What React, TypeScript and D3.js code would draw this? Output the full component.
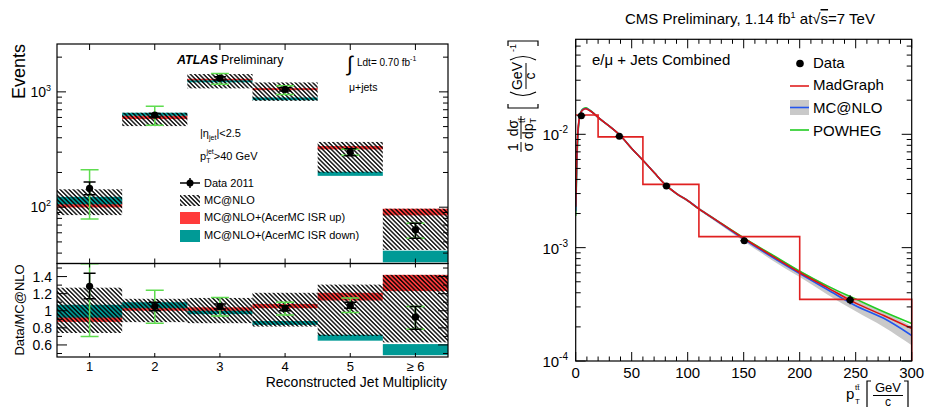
import React from 'react';
import * as d3 from 'd3';

// ---------- Left panel (ATLAS) ----------
const categories = ['1', '2', '3', '4', '5', '≥ 6'];
const dataEvents = [146, 628, 1310, 1049, 301, 63.6];
const dataStatLo = [128, 605, 1265, 1015, 280, 53.7];
const dataStatHi = [165, 650, 1355, 1085, 322, 72.6];
const dataTotLo = [79, 513, 1167, 949, 282, 53.7];
const dataTotHi = [211, 751, 1445, 1128, 318, 72.6];
const mcLo = [85.4, 505, 1072, 835, 199, 42.6];
const mcHi = [143, 659, 1427, 1207, 368, 97];
const upLo = [99.6, 581, 1248, 1035, 317, 85];
const upHi = [115, 621, 1299, 1077, 339, 97];
const downLo = [106, 621, 1209, 847, 187, 33.3];
const downHi = [123, 659, 1258, 894, 203, 42];

const ratioData = [1.286, 1.05, 1.05, 1.03, 1.06, 0.925];
const ratioStatLo = [1.14, 1.0, 1.02, 1.0, 1.03, 0.785];
const ratioStatHi = [1.44, 1.1, 1.08, 1.06, 1.1, 1.05];
const ratioTotLo = [0.7, 0.855, 0.94, 0.95, 0.98, 0.785];
const ratioTotHi = [1.55, 1.24, 1.156, 1.1, 1.15, 1.05];
const ratioMcLo = [0.74, 0.867, 0.855, 0.815, 0.705, 0.63];
const ratioMcHi = [1.27, 1.14, 1.15, 1.21, 1.306, 1.42];
const ratioUpLo = [0.87, 1.0, 0.99, 1.03, 1.12, 1.23];
const ratioUpHi = [0.97, 1.05, 1.04, 1.08, 1.21, 1.42];
const ratioDownLo = [0.92, 1.03, 0.96, 0.835, 0.65, 0.48];
const ratioDownHi = [1.07, 1.1, 1.0, 0.88, 0.72, 0.61];
const ratioTicks = [0.6, 0.8, 1, 1.2, 1.4];
const ratioMinorTicks = [0.5, 0.7, 0.9, 1.1, 1.3, 1.5];

// ---------- Right panel (CMS) ----------
const ptData = [5, 39, 81, 150.5, 245];
const ptDataVal = [0.0146, 0.0096, 0.0035, 0.00115, 0.000346];
const ptDataErrLo = [0.0142, 0.0094, 0.00342, 0.0011, 0.000317];
const ptDataErrHi = [0.015, 0.0098, 0.00358, 0.0012, 0.00038];
const binEdges = [0, 20, 60, 110, 200, 300];
const madgraphHist = [0.0148, 0.0095, 0.00362, 0.00125, 0.00035];
const curveX = [0, 1, 2, 3, 4, 6, 9, 12, 16, 20, 30, 40, 50, 60, 70, 80, 90, 100, 110, 125, 150, 175, 200, 225, 250, 275, 300];
const madgraphCurve = [0.0023, 0.0063, 0.0108, 0.0134, 0.015, 0.0163, 0.0168, 0.0163, 0.0153, 0.0141, 0.0118, 0.0097, 0.0075, 0.0059, 0.0046, 0.0036, 0.003, 0.0026, 0.0022, 0.00176, 0.00121, 0.00085, 0.000603, 0.000442, 0.000324, 0.000252, 0.000194];
const powhegCurve = [0.0019, 0.0052, 0.0098, 0.013, 0.015, 0.0166, 0.0171, 0.0165, 0.0154, 0.0141, 0.0118, 0.0097, 0.0075, 0.0059, 0.0046, 0.0036, 0.003, 0.0026, 0.0022, 0.00176, 0.00122, 0.00087, 0.00062, 0.000458, 0.000352, 0.000272, 0.000214];
const mcnloCurve = [0.0021, 0.0058, 0.0104, 0.0132, 0.0149, 0.0164, 0.0169, 0.0164, 0.0153, 0.0141, 0.0118, 0.0097, 0.0075, 0.0059, 0.0046, 0.0036, 0.003, 0.0026, 0.0022, 0.00175, 0.00119, 0.00083, 0.00059, 0.000425, 0.000307, 0.000238, 0.000168];
const mcnloBandLo = [0.002, 0.0055, 0.01, 0.0128, 0.0145, 0.016, 0.0165, 0.016, 0.015, 0.0138, 0.0116, 0.0095, 0.0073, 0.0058, 0.0045, 0.00352, 0.00293, 0.00253, 0.00214, 0.00169, 0.00114, 0.00078, 0.00055, 0.000385, 0.000275, 0.0002, 0.000138];
const mcnloBandHi = [0.0022, 0.0061, 0.0108, 0.0136, 0.0153, 0.0168, 0.0173, 0.0168, 0.0156, 0.0144, 0.012, 0.0099, 0.0077, 0.006, 0.0047, 0.00368, 0.00307, 0.00267, 0.00226, 0.00181, 0.00124, 0.00088, 0.00063, 0.000465, 0.000345, 0.000272, 0.000203];
const ptTicks = [0, 50, 100, 150, 200, 250, 300];
const ptMinor = d3.range(0, 301, 10);
const yRTicks = [1e-4, 1e-3, 1e-2];
const yRTickSup = ['-4', '-3', '-2'];

const RED = '#ff3b3b';
const TEAL = '#009a96';
const GREEN = '#5fdc4f';
const FONT = "'Liberation Sans', Arial, Helvetica, sans-serif";

function logMinors(lo: number, hi: number): number[] {
  const out: number[] = [];
  for (let e = Math.floor(Math.log10(lo)); e <= Math.ceil(Math.log10(hi)); e++) {
    for (let m = 1; m <= 9; m++) {
      const v = m * Math.pow(10, e);
      if (v >= lo && v <= hi) out.push(v);
    }
  }
  return out;
}

export default function App() {
  // left scales
  const L = { x0: 57, x1: 448, yTop: 44, yMid: 263.5, yBot: 357 };
  const xL = d3.scaleLinear().domain([0.5, 6.5]).range([L.x0, L.x1]);
  const yTop = d3.scaleLog().domain([32.5, 2600]).range([L.yMid, L.yTop]);
  const yRat = d3.scaleLinear().domain([0.459, 1.553]).range([L.yBot, L.yMid]);
  const bw = xL(1.5) - xL(0.5);

  // right scales
  const R = { x0: 575.7, x1: 911.7, y0: 39.3, y1: 361 };
  const xR = d3.scaleLinear().domain([0, 300]).range([R.x0, R.x1]);
  const yR = d3.scaleLog().domain([1e-4, 0.0689]).range([R.y1, R.y0]);

  const idx = categories.map((_, i) => i);

  const band = (lo: number[], hi: number[], y: any, fill: string, key: string) =>
    idx.map((i) => (
      <rect key={key + i} x={xL(i + 0.5)} width={bw} y={y(hi[i])} height={Math.max(0, y(lo[i]) - y(hi[i]))} fill={fill} />
    ));

  const errBars = (val: number[], lo: number[], hi: number[], y: any, color: string, cap: number, key: string) =>
    idx.map((i) => {
      const cx = xL(i + 1);
      return (
        <g key={key + i} stroke={color} strokeWidth={1.5}>
          <line x1={cx} x2={cx} y1={y(lo[i])} y2={y(hi[i])} />
          <line x1={cx - cap} x2={cx + cap} y1={y(lo[i])} y2={y(lo[i])} />
          <line x1={cx - cap} x2={cx + cap} y1={y(hi[i])} y2={y(hi[i])} />
        </g>
      );
    });

  const topMinors = logMinors(32.5, 2600);
  const rMinors = logMinors(1e-4, 0.0689);

  const curveLine = (ys: number[]) =>
    d3.line<number>().x((_, i) => xR(curveX[i])).y((v) => yR(v)).curve(d3.curveMonotoneX)(ys) || '';
  const bandArea =
    d3
      .area<number>()
      .x((_, i) => xR(curveX[i]))
      .y0((_, i) => yR(mcnloBandLo[i]))
      .y1((_, i) => yR(mcnloBandHi[i]))
      .curve(d3.curveMonotoneX)(curveX) || '';

  let histPath = `M${xR(binEdges[0])},${yR(madgraphHist[0])}`;
  madgraphHist.forEach((v, i) => {
    histPath += `L${xR(binEdges[i + 1])},${yR(v)}`;
    if (i < madgraphHist.length - 1) histPath += `L${xR(binEdges[i + 1])},${yR(madgraphHist[i + 1])}`;
  });
  histPath += `L${xR(300)},${R.y1}`;

  return (
    <svg width={925} height={407} style={{ position: 'absolute', left: 0, top: 0, background: '#fff' }} fontFamily={FONT}>
      <defs>
        <pattern id="hatch" patternUnits="userSpaceOnUse" width={3.1} height={3.1} patternTransform="rotate(-45)">
          <line x1={1.55} y1={0} x2={1.55} y2={3.1} stroke="#000" strokeWidth={1.35} />
        </pattern>
        <clipPath id="clipTop">
          <rect x={L.x0} y={L.yTop} width={L.x1 - L.x0} height={L.yMid - L.yTop} />
        </clipPath>
        <clipPath id="clipRat">
          <rect x={L.x0} y={L.yMid} width={L.x1 - L.x0} height={L.yBot - L.yMid} />
        </clipPath>
        <clipPath id="clipR">
          <rect x={R.x0} y={R.y0} width={R.x1 - R.x0} height={R.y1 - R.y0} />
        </clipPath>
      </defs>

      {/* ================= LEFT: top panel ================= */}
      <g clipPath="url(#clipTop)">
        {band(upLo, upHi, yTop, RED, 'up')}
        {band(downLo, downHi, yTop, TEAL, 'dn')}
        {band(mcLo, mcHi, yTop, 'url(#hatch)', 'mc')}
        {errBars(dataEvents, dataTotLo, dataTotHi, yTop, GREEN, 9, 'gt')}
        {errBars(dataEvents, dataStatLo, dataStatHi, yTop, '#000', 6, 'bt')}
        {idx.map((i) => (
          <circle key={'dt' + i} cx={xL(i + 1)} cy={yTop(dataEvents[i])} r={3.6} fill="#000" />
        ))}
      </g>
      {/* ticks top panel */}
      <g stroke="#000" strokeWidth={1}>
        {[1000, 100].map((v) => (
          <g key={'tm' + v}>
            <line x1={L.x0} x2={L.x0 + 9} y1={yTop(v)} y2={yTop(v)} />
            <line x1={L.x1} x2={L.x1 - 9} y1={yTop(v)} y2={yTop(v)} />
          </g>
        ))}
        {topMinors.filter((v) => v !== 100 && v !== 1000).map((v) => (
          <g key={'tn' + v}>
            <line x1={L.x0} x2={L.x0 + 5} y1={yTop(v)} y2={yTop(v)} />
            <line x1={L.x1} x2={L.x1 - 5} y1={yTop(v)} y2={yTop(v)} />
          </g>
        ))}
        {idx.map((i) => (
          <g key={'tx' + i}>
            <line x1={xL(i + 1)} x2={xL(i + 1)} y1={L.yTop} y2={L.yTop + 6} />
            <line x1={xL(i + 1)} x2={xL(i + 1)} y1={L.yMid} y2={L.yMid - 5} />
          </g>
        ))}
      </g>
      <rect x={L.x0} y={L.yTop} width={L.x1 - L.x0} height={L.yMid - L.yTop} fill="none" stroke="#000" strokeWidth={1.2} />
      {[
        { v: 1000, s: '3' },
        { v: 100, s: '2' },
      ].map((t) => (
        <text key={'tl' + t.v} x={51} y={yTop(t.v) + 5} textAnchor="end" fontSize={14}>
          10<tspan fontSize={9} dy={-6}>{t.s}</tspan>
        </text>
      ))}
      <text transform={`translate(25,44) rotate(-90)`} textAnchor="end" fontSize={18}>
        Events
      </text>

      {/* annotations */}
      <text x={177} y={64} fontSize={12.5} fontWeight="bold" fontStyle="italic">ATLAS</text>
      <text x={221} y={64} fontSize={12.5}>Preliminary</text>
      <text x={347} y={71} fontSize={21}>∫</text>
      <text x={357} y={66} fontSize={10}>
        Ldt= 0.70 fb<tspan fontSize={7} dy={-5}>-1</tspan>
      </text>
      <text x={349} y={91} fontSize={10.5}>μ+jets</text>
      <text x={200} y={137} fontSize={11}>
        |η<tspan fontSize={7} dy={3}>jet</tspan>
        <tspan dy={-3}>|&lt;2.5</tspan>
      </text>
      <text x={200} y={160} fontSize={11}>
        p<tspan fontSize={7} dy={3}>T</tspan>
        <tspan fontSize={7} dx={-4} dy={-9}>jet</tspan>
        <tspan dy={6}>&gt;40 GeV</tspan>
      </text>

      {/* legend left */}
      <g>
        <line x1={180} x2={200} y1={183} y2={183} stroke="#000" strokeWidth={1.5} />
        <line x1={190} x2={190} y1={178} y2={188} stroke="#000" strokeWidth={1.5} />
        <circle cx={190} cy={183} r={3.5} fill="#000" />
        <rect x={180} y={195} width={20} height={11} fill="url(#hatch)" />
        <rect x={180} y={212} width={20} height={12} fill={RED} />
        <rect x={180} y={230} width={20} height={12} fill={TEAL} />
        <text x={204} y={187} fontSize={11}>Data 2011</text>
        <text x={204} y={204} fontSize={11}>MC@NLO</text>
        <text x={204} y={221} fontSize={11}>MC@NLO+(AcerMC ISR up)</text>
        <text x={204} y={239} fontSize={11}>MC@NLO+(AcerMC ISR down)</text>
      </g>

      {/* ================= LEFT: ratio panel ================= */}
      <g clipPath="url(#clipRat)">
        {band(ratioUpLo, ratioUpHi, yRat, RED, 'rup')}
        {band(ratioDownLo, ratioDownHi, yRat, TEAL, 'rdn')}
        {band(ratioMcLo, ratioMcHi, yRat, 'url(#hatch)', 'rmc')}
        {errBars(ratioData, ratioTotLo, ratioTotHi, yRat, GREEN, 9, 'rgt')}
        {errBars(ratioData, ratioStatLo, ratioStatHi, yRat, '#000', 6, 'rbt')}
        {idx.map((i) => (
          <circle key={'rdt' + i} cx={xL(i + 1)} cy={yRat(ratioData[i])} r={3.6} fill="#000" />
        ))}
      </g>
      <g stroke="#000" strokeWidth={1}>
        {ratioTicks.map((v) => (
          <g key={'rt' + v}>
            <line x1={L.x0} x2={L.x0 + 10} y1={yRat(v)} y2={yRat(v)} />
            <line x1={L.x1} x2={L.x1 - 10} y1={yRat(v)} y2={yRat(v)} />
          </g>
        ))}
        {ratioMinorTicks.map((v) => (
          <g key={'rn' + v}>
            <line x1={L.x0} x2={L.x0 + 5} y1={yRat(v)} y2={yRat(v)} />
            <line x1={L.x1} x2={L.x1 - 5} y1={yRat(v)} y2={yRat(v)} />
          </g>
        ))}
        {idx.map((i) => (
          <g key={'rx' + i}>
            <line x1={xL(i + 1)} x2={xL(i + 1)} y1={L.yBot} y2={L.yBot - 4} />
            <line x1={xL(i + 1)} x2={xL(i + 1)} y1={L.yMid} y2={L.yMid + 4} />
          </g>
        ))}
      </g>
      <rect x={L.x0} y={L.yMid} width={L.x1 - L.x0} height={L.yBot - L.yMid} fill="none" stroke="#000" strokeWidth={1.2} />
      {ratioTicks.map((v) => (
        <text key={'rl' + v} x={52} y={yRat(v) + 5} textAnchor="end" fontSize={14}>
          {String(v)}
        </text>
      ))}
      <text transform={`translate(24,310) rotate(-90)`} textAnchor="middle" fontSize={13}>
        Data/MC@NLO
      </text>
      {categories.map((c, i) => (
        <text key={'cl' + i} x={xL(i + 1)} y={371} textAnchor="middle" fontSize={13}>
          {c}
        </text>
      ))}
      <text x={447} y={387} textAnchor="end" fontSize={14}>
        Reconstructed Jet Multiplicity
      </text>

      {/* ================= RIGHT panel ================= */}
      <g clipPath="url(#clipR)">
        <path d={bandArea} fill="#c9c9c9" />
        <path d={curveLine(powhegCurve)} fill="none" stroke="#22cc22" strokeWidth={1.6} />
        <path d={curveLine(mcnloCurve)} fill="none" stroke="#2255ee" strokeWidth={1.6} />
        <path d={curveLine(madgraphCurve)} fill="none" stroke="#dd1111" strokeWidth={1.6} />
      </g>
      <path d={histPath} fill="none" stroke="#e02020" strokeWidth={1.6} />
      {ptData.map((x, i) => (
        <g key={'pd' + i} stroke="#000" strokeWidth={1.2}>
          <line x1={xR(x)} x2={xR(x)} y1={yR(ptDataErrLo[i])} y2={yR(ptDataErrHi[i])} />
          <line x1={xR(x) - 4} x2={xR(x) + 4} y1={yR(ptDataVal[i])} y2={yR(ptDataVal[i])} />
          <circle cx={xR(x)} cy={yR(ptDataVal[i])} r={3.5} fill="#000" stroke="none" />
        </g>
      ))}
      {/* right ticks */}
      <g stroke="#000" strokeWidth={1}>
        {yRTicks.map((v) => (
          <g key={'ry' + v}>
            <line x1={R.x0} x2={R.x0 + 10} y1={yR(v)} y2={yR(v)} />
            <line x1={R.x1} x2={R.x1 - 10} y1={yR(v)} y2={yR(v)} />
          </g>
        ))}
        {rMinors.filter((v) => !yRTicks.some((t) => Math.abs(t - v) < 1e-12)).map((v, i) => (
          <g key={'rym' + i}>
            <line x1={R.x0} x2={R.x0 + 5} y1={yR(v)} y2={yR(v)} />
            <line x1={R.x1} x2={R.x1 - 5} y1={yR(v)} y2={yR(v)} />
          </g>
        ))}
        {ptMinor.map((v) => {
          const major = v % 50 === 0;
          const len = major ? 9 : 4.5;
          return (
            <g key={'rx' + v}>
              <line x1={xR(v)} x2={xR(v)} y1={R.y1} y2={R.y1 - len} />
              <line x1={xR(v)} x2={xR(v)} y1={R.y0} y2={R.y0 + len} />
            </g>
          );
        })}
      </g>
      <rect x={R.x0} y={R.y0} width={R.x1 - R.x0} height={R.y1 - R.y0} fill="none" stroke="#000" strokeWidth={1.2} />
      {yRTicks.map((v, i) => (
        <text key={'ryl' + v} x={568} y={yR(v) + 6} textAnchor="end" fontSize={15}>
          10<tspan fontSize={10} dy={-7}>{yRTickSup[i]}</tspan>
        </text>
      ))}
      {ptTicks.map((v) => (
        <text key={'rxl' + v} x={xR(v)} y={378} textAnchor="middle" fontSize={15}>
          {v}
        </text>
      ))}

      {/* title */}
      <text x={625} y={24} fontSize={15}>
        CMS Preliminary, 1.14 fb<tspan fontSize={9} dy={-6}>1</tspan>
        <tspan dy={6}> at√</tspan>
        <tspan style={{ textDecoration: 'overline' }}>s</tspan>
        <tspan>=7 TeV</tspan>
      </text>
      <text x={592} y={65} fontSize={15}>e/μ + Jets Combined</text>

      {/* legend right */}
      <circle cx={800} cy={63.5} r={3.8} fill="#000" />
      <line x1={790} x2={809} y1={86} y2={86} stroke="#e02020" strokeWidth={1.6} />
      <rect x={790} y={100} width={19} height={15} fill="#c9c9c9" />
      <line x1={790} x2={809} y1={107.5} y2={107.5} stroke="#2255ee" strokeWidth={1.6} />
      <line x1={790} x2={809} y1={130} y2={130} stroke="#22cc22" strokeWidth={1.6} />
      <text x={813} y={68} fontSize={15}>Data</text>
      <text x={813} y={90} fontSize={15}>MadGraph</text>
      <text x={813} y={113} fontSize={15}>MC@NLO</text>
      <text x={813} y={136} fontSize={15}>POWHEG</text>

      {/* right y title (rotated) */}
      <g transform="translate(521,152) rotate(-90)" fontSize={14}>
        <text x={5} y={-3} textAnchor="middle">1</text>
        <line x1={0} x2={10} y1={0} y2={0} stroke="#000" strokeWidth={1} />
        <text x={5} y={12} textAnchor="middle">σ</text>
        <text x={24} y={-3} textAnchor="middle">dσ</text>
        <line x1={13} x2={36} y1={0} y2={0} stroke="#000" strokeWidth={1} />
        <text x={13} y={12}>
          dp<tspan fontSize={9} dy={3}>T</tspan>
          <tspan fontSize={9} dx={-5} dy={-11}>tt̄</tspan>
        </text>
        <path d="M48,-13 L44,-13 L44,17 L48,17" fill="none" stroke="#000" strokeWidth={1.2} />
        <path d="M60,-11 Q53,2 60,15" fill="none" stroke="#000" strokeWidth={1.2} />
        <text x={76} y={1} textAnchor="middle" fontSize={14}>GeV</text>
        <line x1={63} x2={89} y1={5} y2={5} stroke="#000" strokeWidth={1} />
        <text x={76} y={14} textAnchor="middle" fontSize={14}>c</text>
        <path d="M92,-11 Q99,2 92,15" fill="none" stroke="#000" strokeWidth={1.2} />
        <text x={100} y={-5} fontSize={9}>-1</text>
        <path d="M106,-13 L111,-13 L111,17 L106,17" fill="none" stroke="#000" strokeWidth={1.2} />
      </g>

      {/* right x title */}
      <g fontSize={15}>
        <text x={846} y={399}>p</text>
        <text x={855} y={404} fontSize={8}>T</text>
        <text x={855} y={390} fontSize={8}>tt̄</text>
        <path d="M871,381 L867,381 L867,407" fill="none" stroke="#000" strokeWidth={1.2} />
        <text x={888} y={392} textAnchor="middle" fontSize={13}>GeV</text>
        <line x1={873} x2={903} y1={395.5} y2={395.5} stroke="#000" strokeWidth={1} />
        <text x={888} y={406} textAnchor="middle" fontSize={12}>c</text>
        <path d="M904,381 L908,381 L908,407" fill="none" stroke="#000" strokeWidth={1.2} />
      </g>
    </svg>
  );
}
